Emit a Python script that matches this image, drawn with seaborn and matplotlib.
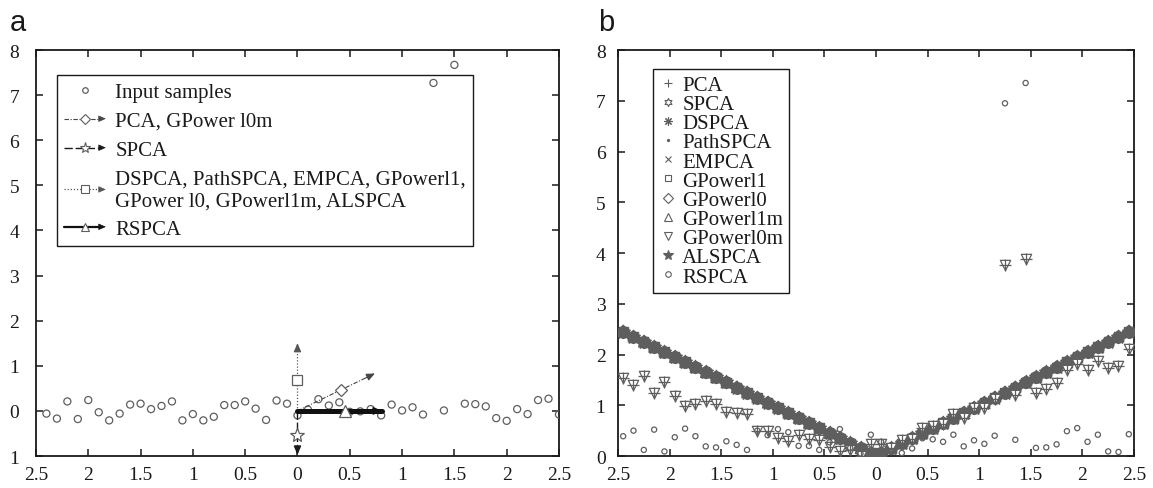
import matplotlib
matplotlib.use('Agg')
import numpy as np
import pandas as pd
import matplotlib.pyplot as plt
import seaborn as sns
from matplotlib.lines import Line2D
from matplotlib.patches import FancyArrowPatch
from matplotlib.legend_handler import HandlerBase

# ---- painel a: amostras de entrada ----
xa = [-2.4, -2.3, -2.2, -2.1, -2.0, -1.9, -1.8, -1.7, -1.6, -1.5,
      -1.4, -1.3, -1.2, -1.1, -1.0, -0.9, -0.8, -0.7, -0.6, -0.5,
      -0.4, -0.3, -0.2, -0.1, 0.0, 0.1, 0.2, 0.3, 0.4, 0.5,
      0.6, 0.7, 0.8, 0.9, 1.0, 1.1, 1.2, 1.3, 1.4, 1.5,
      1.6, 1.7, 1.8, 1.9, 2.0, 2.1, 2.2, 2.3, 2.4, 2.5]
ya = [-0.06, -0.17, 0.21, -0.18, 0.24, -0.03, -0.21, -0.06, 0.14, 0.16,
      0.04, 0.11, 0.21, -0.21, -0.07, -0.21, -0.13, 0.13, 0.13, 0.21,
      0.05, -0.20, 0.23, 0.16, -0.10, 0.03, 0.26, 0.12, 0.19, -0.02,
      -0.01, 0.04, -0.10, 0.14, 0.01, 0.08, -0.08, 7.27, 0.01, 7.67,
      0.16, 0.15, 0.10, -0.16, -0.22, 0.04, -0.07, 0.24, 0.27, -0.08]

# direcoes (ponta da seta) e onde fica o marcador
dir_names = ['PCA', 'SPCA', 'DSPCA', 'RSPCA']
dir_dx = [0.74, 0.0, 0.0, 0.81]
dir_dy = [0.83, -0.97, 1.50, 0.0]
mark_x = [0.42, 0.0, 0.0, 0.45]
mark_y = [0.47, -0.54, 0.69, 0.0]

legend_a = ['Input samples', 'PCA, GPower l0m', 'SPCA',
            'DSPCA, PathSPCA, EMPCA, GPowerl1,\nGPower l0, GPowerl1m, ALSPCA', 'RSPCA']

# ---- painel b ----
xb = [-2.45, -2.35, -2.25, -2.15, -2.05, -1.95, -1.85, -1.75, -1.65, -1.55,
      -1.45, -1.35, -1.25, -1.15, -1.05, -0.95, -0.85, -0.75, -0.65, -0.55,
      -0.45, -0.35, -0.25, -0.15, -0.05, 0.05, 0.15, 0.25, 0.35, 0.45,
      0.55, 0.65, 0.75, 0.85, 0.95, 1.05, 1.15, 1.25, 1.35, 1.45,
      1.55, 1.65, 1.75, 1.85, 1.95, 2.05, 2.15, 2.25, 2.35, 2.45]
# SPCA, DSPCA, PathSPCA, EMPCA, GPowerl1, GPowerl0, GPowerl1m, ALSPCA
grupo_v = [2.45, 2.35, 2.25, 2.15, 2.05, 1.95, 1.85, 1.75, 1.65, 1.55,
           1.45, 1.35, 1.25, 1.15, 1.05, 0.95, 0.85, 0.75, 0.65, 0.55,
           0.45, 0.35, 0.25, 0.15, 0.06, 0.06, 0.15, 0.25, 0.35, 0.45,
           0.55, 0.65, 0.75, 0.85, 0.95, 1.05, 1.15, 1.25, 1.35, 1.45,
           1.55, 1.65, 1.75, 1.85, 1.95, 2.05, 2.15, 2.25, 2.35, 2.45]
# PCA e GPowerl0m
grupo_l0m = [1.54, 1.40, 1.57, 1.24, 1.45, 1.19, 0.99, 1.02, 1.08, 1.02,
             0.86, 0.84, 0.83, 0.49, 0.49, 0.35, 0.30, 0.41, 0.33, 0.32,
             0.17, 0.10, 0.12, 0.00, 0.24, 0.24, 0.15, 0.31, 0.33, 0.56,
             0.60, 0.64, 0.83, 0.75, 0.95, 0.94, 1.13, 3.77, 1.21, 3.89,
             1.25, 1.33, 1.43, 1.70, 1.81, 1.69, 1.87, 1.73, 1.78, 2.10]
rspca = [0.39, 0.50, 0.12, 0.52, 0.09, 0.37, 0.54, 0.39, 0.19, 0.17,
         0.29, 0.22, 0.12, 0.50, 0.41, 0.53, 0.47, 0.20, 0.20, 0.12,
         0.27, 0.53, 0.16, 0.05, 0.42, 0.28, 0.08, 0.06, 0.15, 0.35,
         0.33, 0.28, 0.42, 0.19, 0.31, 0.24, 0.40, 6.95, 0.32, 7.35,
         0.16, 0.17, 0.23, 0.49, 0.55, 0.28, 0.42, 0.09, 0.08, 0.43]

legend_b = ['PCA', 'SPCA', 'DSPCA', 'PathSPCA', 'EMPCA', 'GPowerl1',
            'GPowerl0', 'GPowerl1m', 'GPowerl0m', 'ALSPCA', 'RSPCA']

xticks = [-2.5, -2.0, -1.5, -1.0, -0.5, 0.0, 0.5, 1.0, 1.5, 2.0, 2.5]
xtick_labels = ['2.5', '2', '1.5', '1', '0.5', '0', '0.5', '1', '1.5', '2', '2.5']
ya_ticks = [8, 7, 6, 5, 4, 3, 2, 1, 0, -1]
ya_labels = ['8', '7', '6', '5', '4', '3', '2', '1', '0', '1']
yb_ticks = [0, 1, 2, 3, 4, 5, 6, 7, 8]

sns.set_style('ticks')
plt.rcParams['font.family'] = ['Liberation Serif', 'DejaVu Serif']
plt.rcParams['axes.linewidth'] = 1.3

cinza = '#5e5e5e'
escuro = '#1a1a1a'


class SetaLegenda(HandlerBase):
    # linha + marcador no meio + ponta de seta
    def create_artists(self, legend, orig, xdescent, ydescent, width, height, fontsize, trans):
        y = height / 2 - ydescent
        x0, x1 = -xdescent, width - xdescent
        linha = Line2D([x0, x1 - 3], [y, y])
        linha.update_from(orig)
        linha.set_marker('None')
        linha.set_transform(trans)
        ponta = FancyArrowPatch((x1 - 5, y), (x1, y), arrowstyle='-|>,head_length=0.5,head_width=0.22',
                                mutation_scale=9, color=orig.get_color(), lw=0.5,
                                shrinkA=0, shrinkB=0, transform=trans)
        marca = Line2D([(x0 + x1) / 2], [y])
        marca.update_from(orig)
        marca.set_linestyle('None')
        marca.set_transform(trans)
        return [linha, ponta, marca]


fig = plt.figure(figsize=(11.53, 4.89), dpi=100)
ax1 = fig.add_axes([0.0312, 0.0654, 0.4536, 0.8303])
ax2 = fig.add_axes([0.5360, 0.0654, 0.4475, 0.8303])

# ---------- painel a ----------
sns.scatterplot(x=xa, y=ya, ax=ax1, marker='o', s=26, facecolor='none',
                edgecolor=cinza, linewidth=0.9, zorder=3)

estilos = [dict(ls=(0, (4, 1.5, 1, 1.5)), lw=0.8, color='#444444', marker='D', ms=6),
           dict(ls=(0, (6, 2)), lw=1.0, color=escuro, marker='*', ms=10),
           dict(ls=(0, (1, 1.5)), lw=0.9, color='#555555', marker='s', ms=6.5),
           dict(ls='-', lw=3.6, color='#111111', marker='^', ms=8)]

for dx, dy, mx, my, st in zip(dir_dx, dir_dy, mark_x, mark_y, estilos):
    ax1.plot([0, dx], [0, dy], ls=st['ls'], lw=st['lw'], color=st['color'], zorder=4)
    ax1.annotate('', xy=(dx, dy), xytext=(0.88 * dx, 0.88 * dy),
                 arrowprops=dict(arrowstyle='-|>,head_length=0.5,head_width=0.22', color=st['color'],
                                 lw=min(st['lw'], 1.2), mutation_scale=10, shrinkA=0, shrinkB=0),
                 zorder=5)
    ax1.plot([mx], [my], ls='none', marker=st['marker'], ms=st['ms'], mfc='white',
             mec=cinza, mew=0.9, zorder=6)

hands_a = [Line2D([], [], ls='none', marker='o', ms=4, mfc='none', mec=cinza, mew=0.9)]
for st in estilos:
    lw = 1.6 if st['ls'] == '-' else st['lw']
    hands_a.append(Line2D([], [], ls=st['ls'], lw=lw, color=st['color'], marker=st['marker'],
                          ms=st['ms'] * 0.8, mfc='white', mec=cinza, mew=0.8))
leg1 = ax1.legend(hands_a, legend_a, loc='upper left', bbox_to_anchor=(0.040, 0.938),
                  borderaxespad=0, fontsize=15, frameon=True, fancybox=False, framealpha=1,
                  edgecolor=escuro, handlelength=2.0, handletextpad=0.45, labelspacing=0.45,
                  borderpad=0.35, handler_map={h: SetaLegenda() for h in hands_a[1:]})
leg1.get_frame().set_facecolor('none')
leg1.get_frame().set_linewidth(1.0)
for t in leg1.get_texts():
    t.set_color(escuro)

ax1.set_xlim(-2.5, 2.5)
ax1.set_ylim(-1, 8)
ax1.set_xticks(xticks)
ax1.set_xticklabels(xtick_labels)
ax1.set_yticks(ya_ticks)
ax1.set_yticklabels(ya_labels)

# ---------- painel b ----------
df_b = pd.DataFrame({'x': xb, 'v': grupo_v, 'l0m': grupo_l0m, 'rs': rspca})

marcadores_v = [('o', 70, True), ((6, 1, 0), 80, True), ((8, 2, 0), 60, False), ('.', 30, True),
                ('x', 40, False), ('s', 45, False), ('D', 40, False), ('^', 55, False),
                ('*', 110, True)]
for m, s, cheio in marcadores_v:
    if cheio:
        sns.scatterplot(data=df_b, x='x', y='v', ax=ax2, marker=m, s=s, color=cinza,
                        edgecolor=cinza, linewidth=0.8, zorder=3)
    else:
        sns.scatterplot(data=df_b, x='x', y='v', ax=ax2, marker=m, s=s, facecolor='none',
                        edgecolor=cinza, color=cinza, linewidth=1.0, zorder=3)

sns.scatterplot(data=df_b, x='x', y='l0m', ax=ax2, marker='v', s=55, facecolor='white',
                edgecolor=cinza, linewidth=0.9, zorder=4)
sns.scatterplot(data=df_b, x='x', y='l0m', ax=ax2, marker='+', s=70, color=cinza,
                linewidth=0.9, zorder=5)
sns.scatterplot(data=df_b, x='x', y='rs', ax=ax2, marker='o', s=14, facecolor='none',
                edgecolor=cinza, linewidth=0.9, zorder=4)

mk_leg = ['+', (6, 1, 0), (8, 2, 0), '.', 'x', 's', 'D', '^', 'v', '*', 'o']
ms_leg = [6, 6, 6, 3, 5, 5, 5, 6, 6, 7, 4]
hands_b = []
for m, ms in zip(mk_leg, ms_leg):
    fc = cinza if m in ['*', '.', (8, 2, 0)] else 'none'
    hands_b.append(Line2D([], [], ls='none', marker=m, ms=ms, mfc=fc, mec=cinza, mew=0.8))
leg2 = ax2.legend(hands_b, legend_b, loc='upper left', bbox_to_anchor=(0.068, 0.953),
                  borderaxespad=0, fontsize=15, frameon=True, fancybox=False, framealpha=1,
                  edgecolor=escuro, handlelength=0.8, handletextpad=0.3, labelspacing=-0.02,
                  borderpad=0.3)
leg2.get_frame().set_linewidth(1.0)
for t in leg2.get_texts():
    t.set_color(escuro)

ax2.set_xlim(-2.5, 2.5)
ax2.set_ylim(0, 8)
ax2.set_xticks(xticks)
ax2.set_xticklabels(xtick_labels)
ax2.set_yticks(yb_ticks)

for ax, padx in [(ax1, 12), (ax2, 9)]:
    ax.set_xlabel('')
    ax.set_ylabel('')
    for sp in ax.spines.values():
        sp.set_visible(True)
        sp.set_color(escuro)
    ax.tick_params(axis='both', direction='in', length=5, width=1.1, top=True, right=True,
                   labelsize=14, colors=escuro)
    ax.tick_params(axis='x', pad=7)
    ax.tick_params(axis='y', pad=padx)

fig.text(0.0087, 0.953, 'a', fontsize=21, family=['Liberation Sans', 'DejaVu Sans'],
         va='center', ha='left', color=escuro)
fig.text(0.5187, 0.953, 'b', fontsize=21, family=['Liberation Sans', 'DejaVu Sans'],
         va='center', ha='left', color=escuro)

fig.savefig('out.png', dpi=100)
